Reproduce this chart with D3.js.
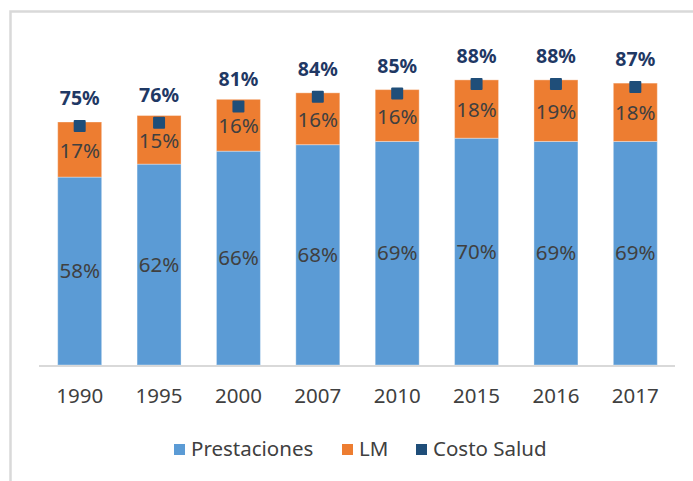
<!DOCTYPE html>
<html>
<head>
<meta charset="utf-8">
<script src="https://cdn.jsdelivr.net/npm/d3@7"></script>
<style>
  body { margin: 0; background: #fff; }
  svg { display: block; font-family: "Noto Sans", "Open Sans", sans-serif; }
</style>
</head>
<body>
<svg id="chart" width="693" height="481"></svg>
<script>
const years = ["1990", "1995", "2000", "2007", "2010", "2015", "2016", "2017"];
const prestaciones = [58, 62, 66, 68, 69, 70, 69, 69];
const lm = [17, 15, 16, 16, 16, 18, 19, 18];
const costoSalud = [75, 76, 81, 84, 85, 88, 88, 87];
const legendNames = ["Prestaciones", "LM", "Costo Salud"];

const colors = { blue: "#5b9bd5", orange: "#ed7d31", navy: "#1f4e79" };
const svg = d3.select("#chart");

// frame of the chart area (runs off the right and bottom)
svg.append("rect")
    .attr("x", 10.5).attr("y", 11.5)
    .attr("width", 720).attr("height", 520)
    .attr("fill", "none")
    .attr("stroke", "#d9d9d9")
    .attr("stroke-width", 2.5);

const x = d3.scaleBand()
    .domain(years)
    .range([40, 675])
    .paddingInner(0.446)
    .paddingOuter(0.223);

const y = d3.scaleLinear()
    .domain([0, 100])
    .range([365, 41]);

const rows = years.map((yr, i) => ({ yr, p: prestaciones[i], l: lm[i], c: costoSalud[i] }));

// blue bars
svg.selectAll("rect.prest")
    .data(rows)
    .join("rect")
    .attr("class", "prest")
    .attr("x", d => x(d.yr))
    .attr("y", d => y(d.p))
    .attr("width", x.bandwidth())
    .attr("height", d => y(0) - y(d.p))
    .attr("fill", colors.blue)
    .attr("stroke", "rgba(255,255,255,0.35)")
    .attr("stroke-width", 1);

// orange bars on top
svg.selectAll("rect.lm")
    .data(rows)
    .join("rect")
    .attr("class", "lm")
    .attr("x", d => x(d.yr))
    .attr("y", d => y(d.p + d.l))
    .attr("width", x.bandwidth())
    .attr("height", d => y(d.p) - y(d.p + d.l))
    .attr("fill", colors.orange)
    .attr("stroke", "rgba(255,255,255,0.35)")
    .attr("stroke-width", 1);

// labels inside the segments
svg.selectAll("text.plab")
    .data(rows)
    .join("text")
    .attr("class", "plab")
    .attr("x", d => x(d.yr) + x.bandwidth() / 2)
    .attr("y", d => (y(0) + y(d.p)) / 2 + 7)
    .attr("text-anchor", "middle")
    .attr("fill", "#404040")
    .attr("font-size", "20.5px")
    .text(d => d.p + "%");

svg.selectAll("text.llab")
    .data(rows)
    .join("text")
    .attr("class", "llab")
    .attr("x", d => x(d.yr) + x.bandwidth() / 2)
    .attr("y", d => (y(d.p) + y(d.p + d.l)) / 2 + 8)
    .attr("text-anchor", "middle")
    .attr("fill", "#404040")
    .attr("font-size", "20.5px")
    .text(d => d.l + "%");

// baseline
svg.append("line")
    .attr("x1", 39).attr("x2", 675)
    .attr("y1", y(0) + 1).attr("y2", y(0) + 1)
    .attr("stroke", "#d9d9d9")
    .attr("stroke-width", 2);

// costo salud markers
svg.selectAll("rect.costo")
    .data(rows)
    .join("rect")
    .attr("class", "costo")
    .attr("x", d => x(d.yr) + x.bandwidth() / 2 - 6)
    .attr("y", d => y(d.c) - 2)
    .attr("width", 12)
    .attr("height", 12)
    .attr("rx", 1)
    .attr("fill", colors.navy);

svg.selectAll("text.clab")
    .data(rows)
    .join("text")
    .attr("class", "clab")
    .attr("x", d => x(d.yr) + x.bandwidth() / 2)
    .attr("y", d => y(d.c) - 17)
    .attr("text-anchor", "middle")
    .attr("fill", "#1f3864")
    .attr("font-size", "19.5px")
    .attr("font-weight", "bold")
    .text(d => d.c + "%");

// x axis labels
const xAxis = svg.append("g")
    .attr("transform", `translate(0,${y(0)})`)
    .call(d3.axisBottom(x).tickSize(0).tickPadding(23.5));
xAxis.select(".domain").remove();
xAxis.selectAll("text")
    .attr("font-size", "20.5px")
    .attr("font-family", "Noto Sans, sans-serif")
    .attr("fill", "#404040");

// legend
const legendX = [174, 342, 416];
const legendColors = [colors.blue, colors.orange, colors.navy];
const legend = svg.selectAll("g.leg")
    .data(legendNames)
    .join("g")
    .attr("class", "leg")
    .attr("transform", (d, i) => `translate(${legendX[i]},444)`);
legend.append("rect")
    .attr("x", 0).attr("y", 0)
    .attr("width", 11).attr("height", 11)
    .attr("fill", (d, i) => legendColors[i]);
legend.append("text")
    .attr("x", 17)
    .attr("y", 12)
    .attr("fill", "#404040")
    .attr("font-size", "20.5px")
    .text(d => d);
</script>
</body>
</html>
